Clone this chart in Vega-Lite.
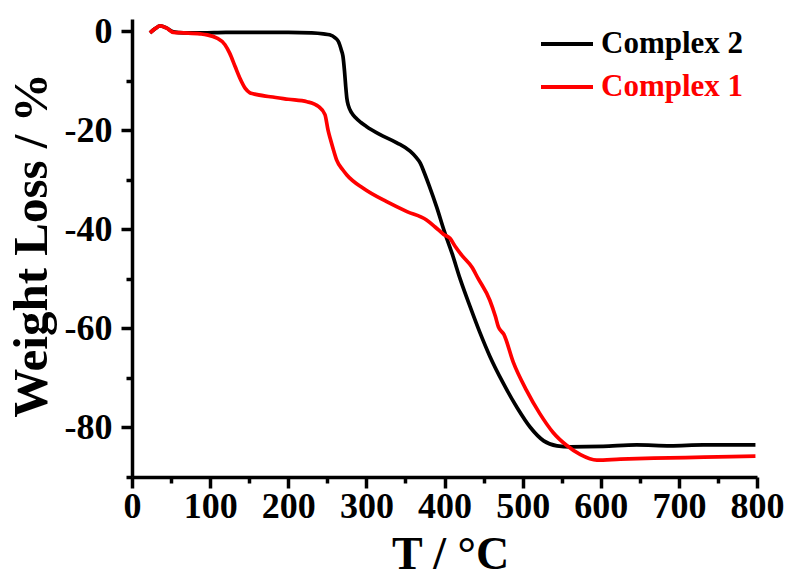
{
  "$schema": "https://vega.github.io/schema/vega-lite/v6.json",
  "width": 625,
  "height": 458,
  "autosize": {"type": "none"},
  "padding": {"left": 132, "top": 19, "right": 32, "bottom": 100},
  "background": "white",
  "config": {"view": {"stroke": null}, "font": "Liberation Serif"},
  "data": {
    "values": [
      {"T": 23, "W": -0.3, "s": "Complex 2"},
      {"T": 30, "W": 0.6, "s": "Complex 2"},
      {"T": 36, "W": 1.1, "s": "Complex 2"},
      {"T": 44, "W": 0.7, "s": "Complex 2"},
      {"T": 53, "W": -0.1, "s": "Complex 2"},
      {"T": 66, "W": -0.3, "s": "Complex 2"},
      {"T": 90, "W": -0.3, "s": "Complex 2"},
      {"T": 120, "W": -0.2, "s": "Complex 2"},
      {"T": 160, "W": -0.2, "s": "Complex 2"},
      {"T": 200, "W": -0.2, "s": "Complex 2"},
      {"T": 230, "W": -0.3, "s": "Complex 2"},
      {"T": 245, "W": -0.5, "s": "Complex 2"},
      {"T": 253, "W": -0.7, "s": "Complex 2"},
      {"T": 260, "W": -1.3, "s": "Complex 2"},
      {"T": 264, "W": -2.0, "s": "Complex 2"},
      {"T": 268, "W": -3.8, "s": "Complex 2"},
      {"T": 270, "W": -5, "s": "Complex 2"},
      {"T": 272, "W": -8, "s": "Complex 2"},
      {"T": 273.5, "W": -11, "s": "Complex 2"},
      {"T": 275, "W": -13.5, "s": "Complex 2"},
      {"T": 277, "W": -15, "s": "Complex 2"},
      {"T": 281, "W": -16.4, "s": "Complex 2"},
      {"T": 286, "W": -17.4, "s": "Complex 2"},
      {"T": 293, "W": -18.4, "s": "Complex 2"},
      {"T": 300, "W": -19.2, "s": "Complex 2"},
      {"T": 317, "W": -20.8, "s": "Complex 2"},
      {"T": 339, "W": -22.5, "s": "Complex 2"},
      {"T": 356, "W": -24.2, "s": "Complex 2"},
      {"T": 364, "W": -25.5, "s": "Complex 2"},
      {"T": 369, "W": -26.6, "s": "Complex 2"},
      {"T": 374, "W": -28.5, "s": "Complex 2"},
      {"T": 380, "W": -31, "s": "Complex 2"},
      {"T": 390, "W": -35.5, "s": "Complex 2"},
      {"T": 400, "W": -40.5, "s": "Complex 2"},
      {"T": 410, "W": -45, "s": "Complex 2"},
      {"T": 420, "W": -50, "s": "Complex 2"},
      {"T": 433, "W": -55.7, "s": "Complex 2"},
      {"T": 445, "W": -60.7, "s": "Complex 2"},
      {"T": 458, "W": -65.6, "s": "Complex 2"},
      {"T": 475, "W": -71, "s": "Complex 2"},
      {"T": 493, "W": -76, "s": "Complex 2"},
      {"T": 510, "W": -80, "s": "Complex 2"},
      {"T": 527, "W": -82.7, "s": "Complex 2"},
      {"T": 544, "W": -83.7, "s": "Complex 2"},
      {"T": 561, "W": -83.9, "s": "Complex 2"},
      {"T": 603, "W": -83.8, "s": "Complex 2"},
      {"T": 646, "W": -83.5, "s": "Complex 2"},
      {"T": 689, "W": -83.7, "s": "Complex 2"},
      {"T": 731, "W": -83.5, "s": "Complex 2"},
      {"T": 798, "W": -83.5, "s": "Complex 2"},
      {"T": 23, "W": -0.3, "s": "Complex 1"},
      {"T": 30, "W": 0.6, "s": "Complex 1"},
      {"T": 36, "W": 1.1, "s": "Complex 1"},
      {"T": 44, "W": 0.7, "s": "Complex 1"},
      {"T": 53, "W": -0.2, "s": "Complex 1"},
      {"T": 66, "W": -0.3, "s": "Complex 1"},
      {"T": 87, "W": -0.5, "s": "Complex 1"},
      {"T": 96, "W": -0.7, "s": "Complex 1"},
      {"T": 108, "W": -1.3, "s": "Complex 1"},
      {"T": 119, "W": -2.7, "s": "Complex 1"},
      {"T": 125, "W": -4.4, "s": "Complex 1"},
      {"T": 132, "W": -7.1, "s": "Complex 1"},
      {"T": 138, "W": -9.4, "s": "Complex 1"},
      {"T": 145, "W": -11.5, "s": "Complex 1"},
      {"T": 151, "W": -12.4, "s": "Complex 1"},
      {"T": 155, "W": -12.6, "s": "Complex 1"},
      {"T": 177, "W": -13.2, "s": "Complex 1"},
      {"T": 200, "W": -13.7, "s": "Complex 1"},
      {"T": 224, "W": -14.2, "s": "Complex 1"},
      {"T": 239, "W": -15.2, "s": "Complex 1"},
      {"T": 247, "W": -16.8, "s": "Complex 1"},
      {"T": 251, "W": -20, "s": "Complex 1"},
      {"T": 254, "W": -21.8, "s": "Complex 1"},
      {"T": 258, "W": -24, "s": "Complex 1"},
      {"T": 262, "W": -26, "s": "Complex 1"},
      {"T": 270, "W": -28, "s": "Complex 1"},
      {"T": 275, "W": -29, "s": "Complex 1"},
      {"T": 296, "W": -31.7, "s": "Complex 1"},
      {"T": 326, "W": -34.4, "s": "Complex 1"},
      {"T": 352, "W": -36.4, "s": "Complex 1"},
      {"T": 377, "W": -38.1, "s": "Complex 1"},
      {"T": 388, "W": -39.5, "s": "Complex 1"},
      {"T": 399, "W": -41, "s": "Complex 1"},
      {"T": 407, "W": -41.8, "s": "Complex 1"},
      {"T": 414, "W": -43.5, "s": "Complex 1"},
      {"T": 422, "W": -45.2, "s": "Complex 1"},
      {"T": 435, "W": -47.6, "s": "Complex 1"},
      {"T": 443, "W": -49.9, "s": "Complex 1"},
      {"T": 458, "W": -54.3, "s": "Complex 1"},
      {"T": 465, "W": -57.5, "s": "Complex 1"},
      {"T": 469, "W": -59.7, "s": "Complex 1"},
      {"T": 476, "W": -61.2, "s": "Complex 1"},
      {"T": 488, "W": -66.8, "s": "Complex 1"},
      {"T": 505, "W": -72.5, "s": "Complex 1"},
      {"T": 522, "W": -77.2, "s": "Complex 1"},
      {"T": 539, "W": -81, "s": "Complex 1"},
      {"T": 557, "W": -83.7, "s": "Complex 1"},
      {"T": 574, "W": -85.5, "s": "Complex 1"},
      {"T": 595, "W": -86.6, "s": "Complex 1"},
      {"T": 625, "W": -86.4, "s": "Complex 1"},
      {"T": 668, "W": -86.2, "s": "Complex 1"},
      {"T": 732, "W": -86.0, "s": "Complex 1"},
      {"T": 798, "W": -85.8, "s": "Complex 1"}
    ]
  },
  "mark": {"type": "line", "strokeWidth": 3.7, "interpolate": "monotone"},
  "encoding": {
    "x": {
      "field": "T",
      "type": "quantitative",
      "scale": {"domain": [0, 800], "nice": false},
      "axis": {
        "title": "T / °C",
        "values": [0, 50, 100, 150, 200, 250, 300, 350, 400, 450, 500, 550, 600, 650, 700, 750, 800],
        "labelExpr": "datum.value % 100 === 0 ? toString(datum.value) : ''",
        "tickSize": {"condition": {"test": "datum.value % 100 === 0", "value": 11}, "value": 6},
        "grid": false,
        "domainColor": "black",
        "domainWidth": 3.5,
        "tickColor": "black",
        "tickWidth": 3.5,
        "labelFont": "Liberation Serif",
        "labelFontWeight": "bold",
        "labelFontSize": 36,
        "labelColor": "black",
        "labelPadding": 1,
        "labelOverlap": false,
        "labelFlush": false,
        "titleFont": "Liberation Serif",
        "titleFontWeight": "bold",
        "titleFontSize": 46,
        "titleColor": "black",
        "titleBaseline": "alphabetic",
        "titleX": 318,
        "titleY": 91
      }
    },
    "y": {
      "field": "W",
      "type": "quantitative",
      "scale": {"domain": [-90, 2.5], "nice": false, "zero": false},
      "axis": {
        "title": "Weight Loss / %",
        "values": [-90, -80, -70, -60, -50, -40, -30, -20, -10, 0],
        "labelExpr": "datum.value % 20 === 0 ? toString(datum.value) : ''",
        "tickSize": {"condition": {"test": "datum.value % 20 === 0", "value": 11}, "value": 6},
        "grid": false,
        "domainColor": "black",
        "domainWidth": 3.5,
        "tickColor": "black",
        "tickWidth": 3.5,
        "labelFont": "Liberation Serif",
        "labelFontWeight": "bold",
        "labelFontSize": 36,
        "labelColor": "black",
        "labelPadding": 9,
        "labelOverlap": false,
        "labelFlush": false,
        "titleFont": "Liberation Serif",
        "titleFontWeight": "bold",
        "titleFontSize": 49,
        "titleColor": "black",
        "titleBaseline": "alphabetic",
        "titleAngle": 270,
        "titleAlign": "center",
        "titleX": -86,
        "titleY": 226
      }
    },
    "color": {
      "field": "s",
      "type": "nominal",
      "scale": {"domain": ["Complex 2", "Complex 1"], "range": ["#000000", "#ff0000"]},
      "legend": {
        "orient": "none",
        "legendX": 407,
        "legendY": -3,
        "title": null,
        "padding": 0,
        "symbolType": "stroke",
        "symbolSize": 2704,
        "symbolStrokeWidth": 4,
        "labelFont": "Liberation Serif",
        "labelFontWeight": "bold",
        "labelFontSize": 31,
        "labelColor": {"expr": "datum.value === 'Complex 1' ? '#ff0000' : '#000000'"},
        "labelOffset": 6,
        "rowPadding": -19
      }
    }
  }
}
